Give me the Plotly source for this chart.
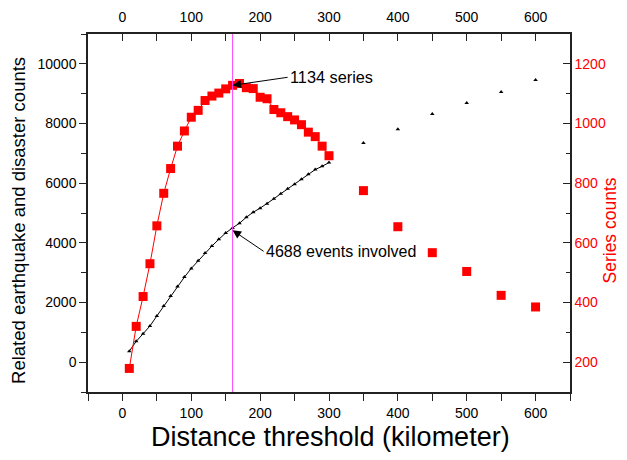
import plotly.graph_objects as go

# ---- data ----
dist_dense = [10, 20, 30, 40, 50, 60, 70, 80, 90, 100, 110, 120, 130, 140, 150,
              160, 170, 180, 190, 200, 210, 220, 230, 240, 250, 260, 270, 280, 290, 300]
dist_sparse = [350, 400, 450, 500, 550, 600]

series_dense = [179, 320, 420, 530, 657, 766, 849, 924, 975, 1021, 1044, 1077, 1092, 1102, 1116,
                1128, 1134, 1120, 1117, 1088, 1083, 1047, 1036, 1023, 1012, 996, 971, 956, 924, 892]
series_sparse = [775, 654, 567, 504, 424, 385]

events_dense = [370, 697, 953, 1212, 1549, 1885, 2222, 2536, 2851, 3143, 3401, 3659, 3894, 4118, 4332,
                4501, 4657, 4859, 5027, 5162, 5310, 5478, 5647, 5815, 5960, 6128, 6296, 6455, 6566, 6690]
events_sparse = [7350, 7811, 8317, 8687, 9057, 9461]

threshold = 160
peak_series_label = "1134 series"
peak_series_y = 1128
events_label = "4688 events involved"
events_at_threshold = 4420

x_title = "Distance threshold (kilometer)"
y_title = "Related earthquake and disaster counts"
y2_title = "Series counts"

FONT = "Arial, Liberation Sans, sans-serif"
RED = "#ff0000"
AX = "#222222"

fig = go.Figure()

fig.add_trace(go.Scatter(x=dist_dense, y=events_dense, mode="lines+markers",
                         line=dict(color="black", width=1),
                         marker=dict(symbol="triangle-up", size=4, color="black"),
                         xaxis="x", yaxis="y", showlegend=False))
fig.add_trace(go.Scatter(x=dist_sparse, y=events_sparse, mode="markers",
                         marker=dict(symbol="triangle-up", size=4, color="black"),
                         xaxis="x", yaxis="y", showlegend=False))
fig.add_trace(go.Scatter(x=dist_dense, y=series_dense, mode="lines+markers",
                         line=dict(color=RED, width=1),
                         marker=dict(symbol="square", size=9, color=RED),
                         xaxis="x2", yaxis="y2", showlegend=False))
fig.add_trace(go.Scatter(x=dist_sparse, y=series_sparse, mode="markers",
                         marker=dict(symbol="square", size=9, color=RED),
                         xaxis="x2", yaxis="y2", showlegend=False))

fig.add_shape(type="line", x0=threshold, x1=threshold, y0=0, y1=1,
              xref="x", yref="paper", line=dict(color="#ff44ff", width=1))

fig.add_annotation(x=threshold, y=peak_series_y, xref="x2", yref="y2",
                   text=peak_series_label, showarrow=True, ax=55, ay=-8,
                   xanchor="left", yanchor="middle",
                   arrowhead=2, arrowsize=1.7, arrowwidth=1, arrowcolor="black",
                   font=dict(family=FONT, size=16.3, color="black"))
fig.add_annotation(x=threshold, y=events_at_threshold, xref="x", yref="y",
                   text=events_label, showarrow=True, ax=31, ay=21,
                   xanchor="left", yanchor="middle",
                   arrowhead=2, arrowsize=1.7, arrowwidth=1, arrowcolor="black",
                   font=dict(family=FONT, size=16, color="black"))

# axis titles as paper annotations
fig.add_annotation(x=0.504, y=-0.1257, xref="paper", yref="paper", text=x_title, showarrow=False,
                   xanchor="center", yanchor="middle", font=dict(family=FONT, size=27, color="black"))
fig.add_annotation(x=-0.143, y=0.478, xref="paper", yref="paper", text=y_title, showarrow=False,
                   textangle=-90, xanchor="center", yanchor="middle",
                   font=dict(family=FONT, size=18.5, color="black"))
fig.add_annotation(x=1.084, y=0.4525, xref="paper", yref="paper", text=y2_title, showarrow=False,
                   textangle=-90, xanchor="center", yanchor="middle",
                   font=dict(family=FONT, size=17.5, color=RED))

axis_common = dict(showline=True, linecolor=AX, linewidth=1.5, showgrid=False, zeroline=False,
                   automargin=False, tickformat="d",
                   tickcolor=AX, tickwidth=1.2, tickfont=dict(family=FONT, size=14, color="black"))

# page body has an 8px default margin, so the figure is 8px smaller than the window
fig.update_layout(
    width=619, height=452,
    margin=dict(l=80, r=57, t=26, b=68),
    paper_bgcolor="white", plot_bgcolor="white",
    font=dict(family=FONT),
    xaxis=dict(range=[-50, 650], tick0=0, dtick=100, ticks="outside", ticklen=7,
               minor=dict(dtick=50, ticks="outside", ticklen=7, tickcolor=AX),
               **axis_common),
    xaxis2=dict(range=[-50, 650], tick0=0, dtick=100, ticks="inside", ticklen=7,
                overlaying="x", side="top", anchor="y", ticklabelstandoff=5,
                minor=dict(dtick=50, ticks="inside", ticklen=7, tickcolor=AX),
                **axis_common),
    yaxis=dict(range=[-1000, 11000], tick0=0, dtick=2000, ticks="outside", ticklen=7,
               minor=dict(dtick=1000, ticks="outside", ticklen=5, tickcolor=AX),
               **axis_common),
    yaxis2=dict(range=[100, 1300], tick0=200, dtick=200, ticks="inside", ticklen=7,
                overlaying="y", side="right", anchor="x2",
                minor=dict(dtick=100, ticks="inside", ticklen=4, tickcolor=AX),
                showline=True, linecolor=AX, linewidth=1.5, showgrid=False, zeroline=False,
                automargin=False, tickformat="d",
                tickcolor=AX, tickwidth=1.2, tickfont=dict(family=FONT, size=14, color=RED)),
)

fig.write_html("out.html")
